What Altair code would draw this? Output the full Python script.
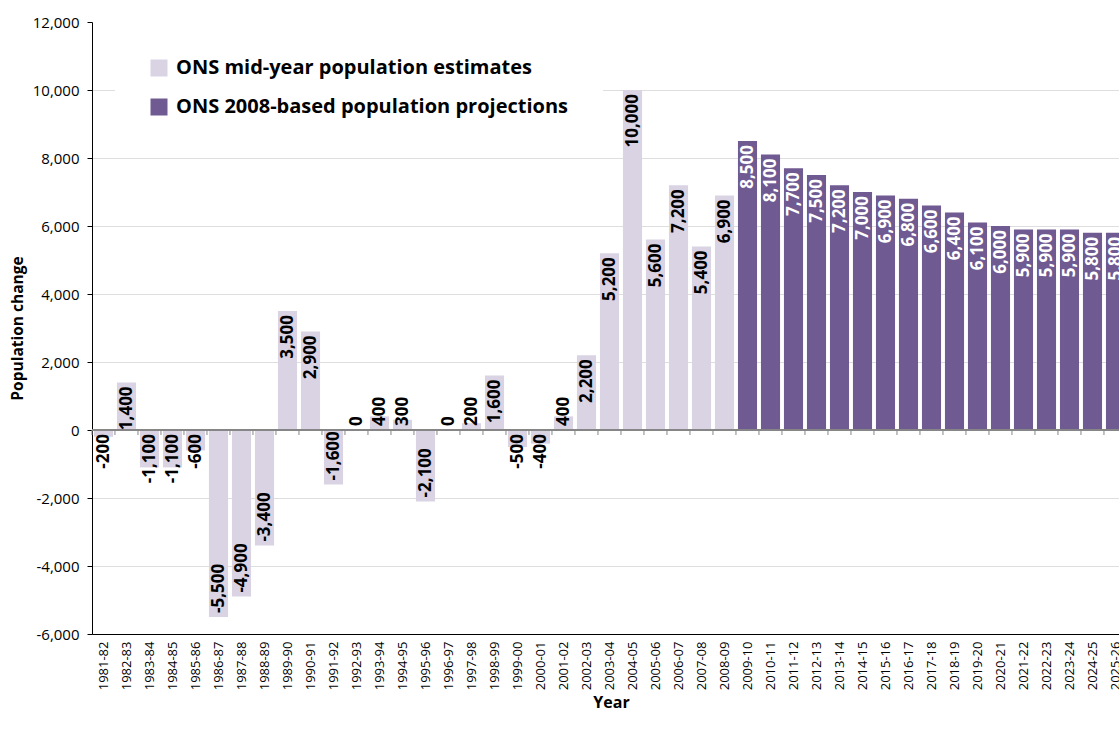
import altair as alt
import pandas as pd

# Financial years shown on the category axis
years = [
    "1981-82", "1982-83", "1983-84", "1984-85", "1985-86", "1986-87", "1987-88",
    "1988-89", "1989-90", "1990-91", "1991-92", "1992-93", "1993-94", "1994-95",
    "1995-96", "1996-97", "1997-98", "1998-99", "1999-00", "2000-01", "2001-02",
    "2002-03", "2003-04", "2004-05", "2005-06", "2006-07", "2007-08", "2008-09",
    "2009-10", "2010-11", "2011-12", "2012-13", "2013-14", "2014-15", "2015-16",
    "2016-17", "2017-18", "2018-19", "2019-20", "2020-21", "2021-22", "2022-23",
    "2023-24", "2024-25", "2025-26",
]

# Annual population change, mid-year estimates (1981-82 to 2008-09)
estimates = [
    -200, 1400, -1100, -1100, -600, -5500, -4900, -3400, 3500, 2900,
    -1600, 0, 400, 300, -2100, 0, 200, 1600, -500, -400,
    400, 2200, 5200, 10000, 5600, 7200, 5400, 6900,
]

# Annual population change, 2008-based projections (2009-10 onwards)
projections = [
    8500, 8100, 7700, 7500, 7200, 7000, 6900, 6800, 6600, 6400,
    6100, 6000, 5900, 5900, 5900, 5800, 5800,
]

series_names = [
    "ONS mid-year population estimates",
    "ONS 2008-based population projections",
]
series_colors = ["#D9D3E4", "#6F5A92"]

values = estimates + projections
df = pd.DataFrame({
    "year": years,
    "value": values,
    "series": [series_names[0]] * len(estimates) + [series_names[1]] * len(projections),
    "label": [f"{v:,}" for v in values],
})

FONT = "Open Sans"

x_scale = alt.Scale(domain=years, range=[0, 1035], paddingInner=0.17, paddingOuter=0.085)
y_scale = alt.Scale(domain=[-6000, 12000], nice=False, zero=False)

base = alt.Chart(df)

bars = base.mark_bar().encode(
    x=alt.X(
        "year:N",
        scale=x_scale,
        sort=years,
        axis=alt.Axis(
            title="Year",
            labelAngle=270,
            labelFont=FONT,
            labelFontSize=13,
            labelColor="#000000",
            labelPadding=7,
            ticks=False,
            domainColor="#000000",
            domainWidth=1,
            titleFont=FONT,
            titleFontSize=16,
            titleFontWeight="bold",
            titleColor="#000000",
            titleX=519,
            titleY=68,
            titleBaseline="middle",
            titleAlign="center",
        ),
    ),
    y=alt.Y(
        "value:Q",
        scale=y_scale,
        axis=alt.Axis(
            title="Population change",
            values=list(range(-6000, 12001, 2000)),
            labelExpr="replace(format(datum.value, ','), '\u2212', '-')",
            labelFont=FONT,
            labelFontSize=15,
            labelColor="#000000",
            labelPadding=8,
            tickSize=5,
            tickColor="#000000",
            domainColor="#000000",
            gridColor={"condition": {"test": "datum.value === 12000", "value": "transparent"},
                       "value": "#DEDEDE"},
            titleFont=FONT,
            titleFontSize=15.5,
            titleFontWeight="bold",
            titleColor="#000000",
            titleAngle=270,
            titleX=-75,
            titleY=306,
            titleBaseline="middle",
            titleAlign="center",
        ),
    ),
    color=alt.Color(
        "series:N",
        scale=alt.Scale(domain=series_names, range=series_colors),
        legend=alt.Legend(
            title=None,
            orient="none",
            legendX=23,
            legendY=2,
            padding=34,
            fillColor="white",
            symbolType="square",
            symbolSize=289,
            symbolStrokeWidth=0,
            labelFont=FONT,
            labelFontSize=20,
            labelFontWeight="bold",
            labelColor="#000000",
            labelOffset=7,
            labelLimit=0,
            rowPadding=19,
        ),
    ),
)

# Category axis crossing at zero, with tick marks between bands
zero_line = base.mark_rule(color="#868686", strokeWidth=1.5).encode(y=alt.datum(0))
zero_ticks = base.mark_rule(color="#868686", strokeWidth=1, xOffset=-2, y2Offset=5).encode(
    x=alt.X("year:N", sort=years, bandPosition=0),
    y=alt.datum(0),
    y2=alt.datum(0),
)

# Value labels: inside the bar end when they fit, otherwise starting at the zero line
labelled = base.transform_calculate(
    inside="abs(datum.value) >= 1400",
).transform_calculate(
    anchor="datum.inside ? datum.value : 0",
    to_right="(datum.value >= 0 && datum.inside) || (datum.value < 0 && !datum.inside)",
)

label_color = alt.condition(
    alt.datum.series == series_names[1], alt.value("#FFFFFF"), alt.value("#000000")
)

text_style = dict(angle=270, baseline="middle", font=FONT, fontSize=17, fontWeight="bold")

labels_right = labelled.transform_filter("datum.to_right").mark_text(
    align="right", dx=-4, **text_style
).encode(
    x=alt.X("year:N", sort=years),
    y=alt.Y("anchor:Q"),
    text="label:N",
    color=label_color,
)

labels_left = labelled.transform_filter("!datum.to_right").mark_text(
    align="left", dx=4, **text_style
).encode(
    x=alt.X("year:N", sort=years),
    y=alt.Y("anchor:Q"),
    text="label:N",
    color=label_color,
)

chart = alt.layer(bars, zero_line, zero_ticks, labels_right, labels_left).properties(
    width=1027,
    height=612,
    autosize=alt.AutoSizeParams(type="none"),
    padding={"left": 92, "top": 22, "right": 0, "bottom": 102},
    background="white",
).configure_view(stroke=None)

chart.save("out.html", embed_options={"renderer": "svg", "actions": False})
